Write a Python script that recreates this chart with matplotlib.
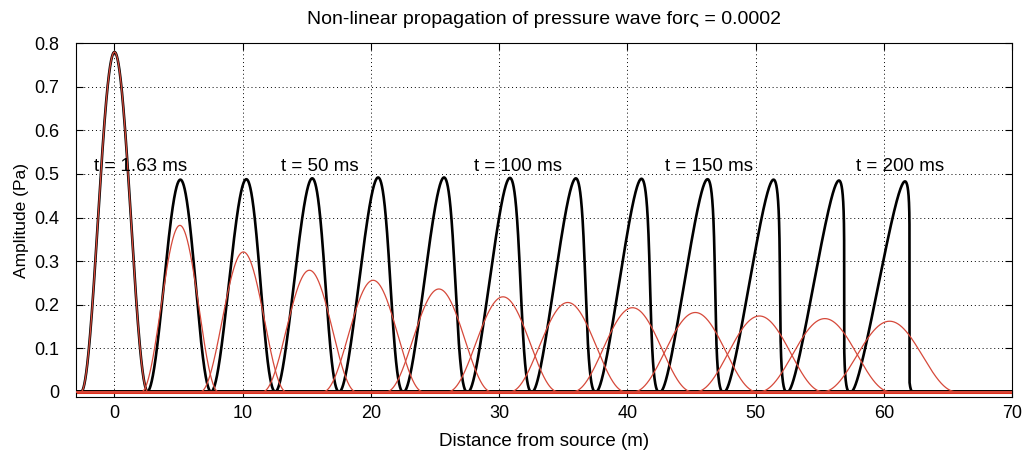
import numpy as np
import matplotlib
matplotlib.use("Agg")
import matplotlib.pyplot as plt

plt.rcParams['font.family'] = ['Liberation Sans', 'DejaVu Sans']

# non-linear (black) pulses: peak position (m), amplitude (Pa), forward skew of peak (m), half base width (m)
black_peak = [0.0, 5.14, 10.28, 15.42, 20.56, 25.7, 30.84, 35.98, 41.1, 46.25, 51.4, 56.5, 61.65]
black_amp = [0.78, 0.487, 0.488, 0.49, 0.492, 0.492, 0.491, 0.49, 0.489, 0.488, 0.487, 0.485, 0.483]
black_skew = [0.0, 0.1, 0.25, 0.4, 0.55, 0.68, 0.8, 0.95, 1.1, 1.25, 1.42, 1.6, 1.8]
black_halfwidth = [2.6, 2.5, 2.5, 2.48, 2.48, 2.46, 2.46, 2.45, 2.44, 2.43, 2.42, 2.4, 2.4]

# linear (red) pulses: centre (m), amplitude (Pa), half width (m)
red_center = [0.0, 5.1, 10.05, 15.2, 20.17, 25.3, 30.3, 35.35, 40.4, 45.3, 50.3, 55.4, 60.45]
red_amp = [0.78, 0.382, 0.321, 0.279, 0.256, 0.236, 0.218, 0.205, 0.193, 0.182, 0.174, 0.168, 0.162]
red_halfwidth = [2.6, 3.0, 3.35, 3.65, 3.9, 4.1, 4.3, 4.5, 4.65, 4.8, 4.95, 5.1, 5.2]

label_text = ['t = 1.63 ms', 't = 50 ms', 't = 100 ms', 't = 150 ms', 't = 200 ms']
label_x = [-1.6, 13.0, 28.0, 42.9, 57.8]
label_y = 0.517

xgrid = np.linspace(-3, 70, 6000)


def hann(x, c, a, w):
    s = x - c
    p = a * np.cos(np.pi * s / (2 * w)) ** 2
    p[np.abs(s) > w] = 0
    return p


def skewed(c_peak, a, k, w):
    # each point of a raised-cosine pulse travels ahead in proportion to its amplitude
    c = c_peak - k
    s = np.linspace(-w, w, 2000)
    p = a * np.cos(np.pi * s / (2 * w)) ** 2
    xs = c + s + k * p / a
    xs = np.maximum.accumulate(xs)
    xs = np.concatenate([[-3], xs, [70]])
    p = np.concatenate([[0], p, [0]])
    return xs, p


fig = plt.figure(figsize=(10.26, 4.53), dpi=100)
ax = fig.add_axes([0.0741, 0.1236, 0.9123, 0.7808])

for i in range(len(black_peak)):
    bx, by = skewed(black_peak[i], black_amp[i], black_skew[i], black_halfwidth[i])
    ax.plot(bx, by, color='black', lw=1.9, zorder=2)
ax.axhline(0, color='#e2301c', lw=2.2, zorder=2.5)
for i in range(len(red_center)):
    ry = hann(xgrid, red_center[i], red_amp[i], red_halfwidth[i])
    ax.plot(xgrid, ry, color='#d6493a', lw=0.9, zorder=3)

for t, x in zip(label_text, label_x):
    ax.text(x, label_y, t, fontsize=13.5, va='center', ha='left', zorder=4)

ax.set_xlim(-3, 70)
ax.set_ylim(-0.012, 0.8)
ax.set_xticks(np.arange(0, 71, 10))
ax.set_yticks(np.arange(0, 0.81, 0.1))
ax.set_yticklabels(['0', '0.1', '0.2', '0.3', '0.4', '0.5', '0.6', '0.7', '0.8'])
ax.grid(True, color='black', linestyle=(0, (1, 3)), linewidth=0.7)
ax.tick_params(direction='in', top=True, right=True, labelsize=13, length=5)
ax.tick_params(axis='y', pad=12)
ax.tick_params(axis='x', pad=6)
ax.set_xlabel('Distance from source (m)', fontsize=13.5, labelpad=8)
ax.set_ylabel('Amplitude (Pa)', fontsize=12.5, labelpad=4)
ax.set_title('Non-linear propagation of pressure wave for\u03c2 = 0.0002', fontsize=14, pad=14)
for sp in ax.spines.values():
    sp.set_linewidth(0.8)

fig.savefig('out.png', dpi=100)
